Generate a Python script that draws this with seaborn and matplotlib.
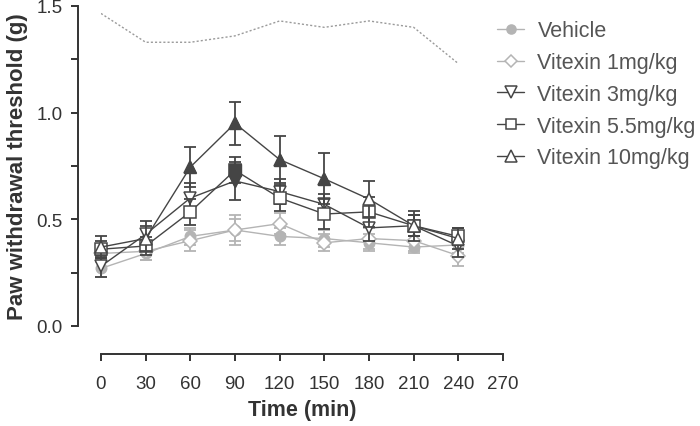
import numpy as np
import pandas as pd
import matplotlib
matplotlib.use("Agg")
import matplotlib.pyplot as plt
from matplotlib.lines import Line2D
from matplotlib.ticker import MultipleLocator
import seaborn as sns

# time points (min)
time = [0, 30, 60, 90, 120, 150, 180, 210, 240]

vehicle = [0.27, 0.34, 0.42, 0.45, 0.42, 0.41, 0.39, 0.37, 0.38]
vehicle_sem = [0.04, 0.03, 0.04, 0.05, 0.04, 0.04, 0.04, 0.03, 0.04]

vit1 = [0.34, 0.35, 0.40, 0.45, 0.48, 0.39, 0.41, 0.40, 0.33]
vit1_sem = [0.04, 0.04, 0.05, 0.07, 0.05, 0.04, 0.05, 0.05, 0.05]

vit3 = [0.28, 0.43, 0.60, 0.68, 0.63, 0.57, 0.46, 0.47, 0.375]
vit3_sem = [0.05, 0.06, 0.07, 0.09, 0.06, 0.05, 0.06, 0.05, 0.05]

vit55 = [0.36, 0.375, 0.535, 0.73, 0.60, 0.525, 0.535, 0.47, 0.42]
vit55_sem = [0.04, 0.04, 0.06, 0.06, 0.06, 0.07, 0.07, 0.05, 0.04]

vit10 = [0.37, 0.41, 0.745, 0.95, 0.78, 0.69, 0.595, 0.47, 0.41]
vit10_sem = [0.05, 0.06, 0.095, 0.10, 0.11, 0.12, 0.085, 0.07, 0.05]

# dotted reference line
baseline = [1.465, 1.33, 1.33, 1.36, 1.43, 1.40, 1.43, 1.40, 1.23]

# significant time points (drawn with filled markers)
sig3 = [90]
sig55 = [90]
sig10 = [60, 90, 120, 150]

labels = ['Vehicle', 'Vitexin 1mg/kg', 'Vitexin 3mg/kg',
          'Vitexin 5.5mg/kg', 'Vitexin 10mg/kg']

sns.set_style("ticks")
plt.rcParams['font.family'] = ['Liberation Sans', 'DejaVu Sans']

light = '#b4b4b4'
dark = '#454545'

fig = plt.figure(figsize=(7, 4.27), dpi=100)
ax = fig.add_axes([101/700, 1-327/427, 402/700, 320/427])

series = [
    (vehicle, vehicle_sem, 'o', light, light, 7.5, []),
    (vit1, vit1_sem, 'D', light, 'white', 7.5, []),
    (vit3, vit3_sem, 'v', dark, 'white', 9, sig3),
    (vit55, vit55_sem, 's', dark, 'white', 8, sig55),
    (vit10, vit10_sem, '^', dark, 'white', 9, sig10),
]

sns.lineplot(x=time, y=baseline, ax=ax, color='#9a9a9a', linestyle=(0, (1.5, 1.5)),
             linewidth=1.0)

handles = []
for i, (vals, sem, mk, col, face, ms, sig) in enumerate(series):
    z = 2 + i
    ax.errorbar(time, vals, yerr=sem, fmt='none', ecolor=col, elinewidth=1.3,
                capsize=4.5, capthick=1.3, zorder=z, clip_on=False)
    sns.lineplot(x=time, y=vals, ax=ax, color=col, linewidth=1.0, marker=mk,
                 markersize=ms, markerfacecolor=face, markeredgecolor=col,
                 markeredgewidth=1.1, zorder=z + 0.1, clip_on=False)
    if sig:
        df = pd.DataFrame({'t': time, 'v': vals})
        df = df[df['t'].isin(sig)]
        ax.plot(df['t'], df['v'], linestyle='none', marker=mk, markersize=ms,
                markerfacecolor=col, markeredgecolor=col, zorder=z + 0.2,
                clip_on=False)
    handles.append(Line2D([], [], color=col, marker=mk, markersize=ms - 1,
                          markerfacecolor=face, markeredgecolor=col,
                          linewidth=1.0, markeredgewidth=1.1))

ax.set_xlim(0, 270)
ax.set_ylim(0, 1.5)
ax.set_xticks(range(0, 271, 30))
ax.set_yticks([0, 0.5, 1.0, 1.5])
ax.set_yticklabels(['0.0', '0.5', '1.0', '1.5'])
ax.yaxis.set_minor_locator(MultipleLocator(0.25))

sns.despine(ax=ax)
ax.spines['left'].set_position(('outward', 16.5))
ax.spines['bottom'].set_position(('outward', 20))
for s in ['left', 'bottom']:
    ax.spines[s].set_linewidth(1.4)
    ax.spines[s].set_color('#333333')
ax.tick_params(axis='both', which='major', length=5, width=1.4, color='#333333',
               labelsize=13.5, labelcolor='#333333')
ax.tick_params(axis='x', which='major', pad=10)
ax.tick_params(axis='y', which='major', pad=6)
ax.tick_params(axis='y', which='minor', length=5, width=1.4, color='#333333')

ax.set_xlabel('Time (min)', fontsize=15.5, fontweight='bold', color='#333333',
              labelpad=5)
ax.set_ylabel('Paw withdrawal threshold (g)', fontsize=16, fontweight='bold',
              color='#333333', labelpad=6)

leg = fig.legend(handles, labels, loc='upper left', bbox_to_anchor=(0.697, 0.97),
                 frameon=False, fontsize=15.5, handlelength=1.3, handletextpad=0.6,
                 labelspacing=0.5, borderaxespad=0)
for t in leg.get_texts():
    t.set_color('#555555')

fig.savefig('out.png', dpi=100)
